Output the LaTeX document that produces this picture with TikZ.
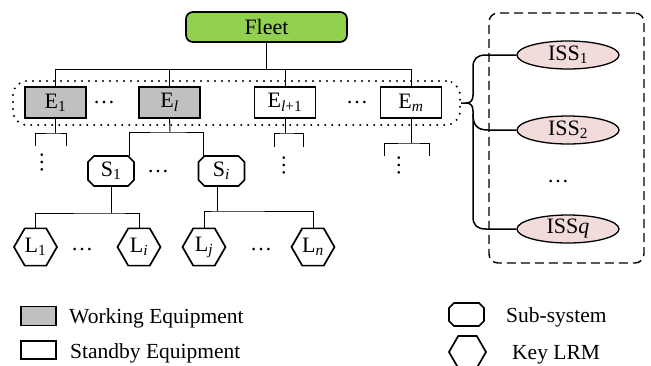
\documentclass[tikz,border=0pt]{standalone}
\usepackage{fontspec}
\setmainfont{Liberation Serif}
\usetikzlibrary{shapes.geometric}
\definecolor{fleetgreen}{HTML}{92D050}
\definecolor{workgray}{HTML}{C0C0C0}
\definecolor{isspink}{HTML}{F2DCDB}
\newcommand\chamferbox[2]{%
  \draw[shapeline] ([xshift=#2]#1.north west) -- ([xshift=-#2]#1.north east) -- ([yshift=-#2]#1.north east) -- ([yshift=#2]#1.south east) -- ([xshift=-#2]#1.south east) -- ([xshift=#2]#1.south west) -- ([yshift=#2]#1.south west) -- ([yshift=-#2]#1.north west) -- cycle;}
\begin{document}
\begin{tikzpicture}[x=1pt,y=-1pt,
  lbl/.style={font=\fontsize{22}{26}\selectfont},
  leg/.style={font=\fontsize{21.5}{25}\selectfont, inner sep=0pt},
  conn/.style={line width=0.9pt},
  shapeline/.style={line width=1.7pt},
  ebox/.style={draw, shapeline, minimum width=61pt, minimum height=31pt, inner sep=0pt, lbl},
  work/.style={ebox, fill=workgray},
  sbox/.style={minimum width=46pt, minimum height=30pt, inner sep=0pt, outer sep=0pt, lbl},
  lrm/.style={draw, shapeline, regular polygon, regular polygon sides=6, minimum size=43pt, inner sep=0pt, lbl},
  iss/.style={draw, line width=1.3pt, ellipse, fill=isspink, minimum width=102pt, minimum height=28pt, inner sep=0pt, lbl},
  hdots/.style={lbl, inner sep=0pt},
  vdots/.style={lbl, inner sep=0pt, rotate=90},
  brace/.style={line width=1.5pt},
]
\useasboundingbox (0,0) rectangle (651,365);
\clip (0,0) rectangle (651,365);

% group boxes
\node[draw, line width=2.2pt, dash pattern=on 0pt off 7pt, line cap=round, rounded corners=14pt,
      minimum width=447pt, minimum height=44pt] (grp) at (236.5,103) {};
\node[draw, line width=1.4pt, dash pattern=on 9pt off 5pt, rounded corners=9pt,
      minimum width=155pt, minimum height=250pt] (issbox) at (566.5,138) {};

% fleet
\node[draw, shapeline, fill=fleetgreen, rounded corners=7pt, minimum width=161pt, minimum height=30pt, inner sep=0pt, lbl] (fleet) at (266.5,27) {Fleet};

% equipment
\node[work] (E1) at (55.5,102.5) {E\textsubscript{1}};
\node[work] (El) at (169.5,102.5) {E\textsubscript{\textit{l}}};
\node[ebox] (El1) at (285,102.5) {E\textsubscript{\textit{l}+1}};
\node[ebox] (Em) at (411,102.5) {E\textsubscript{\textit{m}}};
\node[hdots] (d1) at (104,103) {…};
\node[hdots] (d2) at (357,103) {…};

% bus
\coordinate (busL) at (55.5,69);
\draw[conn] (fleet.south) -- (fleet.south |- busL);
\draw[conn] (E1.north) |- (Em.north |- busL) -- (Em.north);
\draw[conn] (El.north) -- (El.north |- busL);
\draw[conn] (El1.north) -- (El1.north |- busL);

% forks below E1, El+1, Em
\coordinate (f1) at (55.5,133); \coordinate (t1a) at (35,146); \coordinate (t1b) at (66,146);
\draw[conn] (E1.south) -- (f1);
\draw[conn] (t1a) |- (f1) -| (t1b);
\node[vdots] (vd1) at (42,162) {…};

\coordinate (f3) at (285,133); \coordinate (t3a) at (274,147); \coordinate (t3b) at (303,147);
\draw[conn] (El1.south) -- (f3);
\draw[conn] (t3a) |- (f3) -| (t3b);
\node[vdots] (vd3) at (284,165) {…};

\coordinate (f4) at (411,143); \coordinate (t4a) at (384,156); \coordinate (t4b) at (429,156);
\draw[conn] (Em.south) -- (f4);
\draw[conn] (t4a) |- (f4) -| (t4b);
\node[vdots] (vd4) at (399,165) {…};

% subsystems
\node[sbox] (S1) at (111,171) {S\textsubscript{1}};
\node[sbox] (Si) at (221.5,171) {S\textsubscript{\textit{i}}};
\chamferbox{S1}{6pt}
\chamferbox{Si}{6pt}
\node[hdots] (d3) at (158,172) {…};
\coordinate (fkl) at (170,132);
\coordinate (s1in) at ([xshift=-5pt]S1.north east);
\coordinate (siin) at ([xshift=5pt]Si.north west);
\draw[conn] (El.south) -- (fkl);
\draw[conn] (s1in) |- (fkl) -| (siin);

% LRMs
\node[lrm] (L1) at (35.5,247) {L\textsubscript{1}};
\node[lrm] (Li) at (139,247) {L\textsubscript{\textit{i}}};
\node[lrm] (Lj) at (204,247) {L\textsubscript{\textit{j}}};
\node[lrm] (Ln) at (313,247) {L\textsubscript{\textit{n}}};
\node[hdots] (d4) at (82,250) {…};
\node[hdots] (d5) at (261,250) {…};
\coordinate (fs1) at (111,213);
\draw[conn] (S1.south) -- (fs1);
\draw[conn] (L1.north) |- (fs1) -| (Li.north);
\coordinate (sio) at ([xshift=-4.5pt]Si.south);
\coordinate (fs2) at (217,211);
\draw[conn] (sio) -- (fs2);
\draw[conn] (Lj.north) |- (fs2) -| (Ln.north);

% ISS
\node[iss] (ISS1) at (568,55) {ISS\textsubscript{1}};
\node[iss] (ISS2) at (568,130) {ISS\textsubscript{2}};
\node[iss] (ISSq) at (568,229) {ISS\textit{q}};
\node[hdots] (d6) at (558,182) {…};
\coordinate (bt) at (466,103);
\draw[brace] (grp.east) -- (bt) .. controls (471,103) and (473,100) .. (473,95) -- (473,67) .. controls (473,59) and (477,55) .. (486,55) -- (ISS1.west);
\draw[brace] (bt) .. controls (471,103) and (473,106) .. (473,111) -- (473,217) .. controls (473,225) and (477,229) .. (486,229) -- (ISSq.west);
\draw[brace] (473,114) .. controls (473,125) and (477,130) .. (488,130) -- (ISS2.west);

% legend
\node[draw, shapeline, fill=workgray, minimum width=35pt, minimum height=19pt, inner sep=0pt] (legW) at (38.5,316) {};
\node[draw, shapeline, minimum width=35pt, minimum height=18pt, inner sep=0pt] (legS) at (38.5,350) {};
\node[leg, anchor=base west] (txtW) at (69,323) {Working Equipment};
\node[leg, anchor=base west] (txtS) at (70,358) {Standby Equipment};
\node[minimum width=35pt, minimum height=23pt, inner sep=0pt, outer sep=0pt] (legSub) at (466.5,314.5) {};
\chamferbox{legSub}{5pt}
\node[draw, shapeline, regular polygon, regular polygon sides=6, minimum size=37pt, inner sep=0pt] (legL) at (467.5,352) {};
\node[leg, anchor=base west] (txtSub) at (506,322) {Sub-system};
\node[leg, anchor=base west] (txtL) at (512,359) {Key LRM};
\end{tikzpicture}
\end{document}
